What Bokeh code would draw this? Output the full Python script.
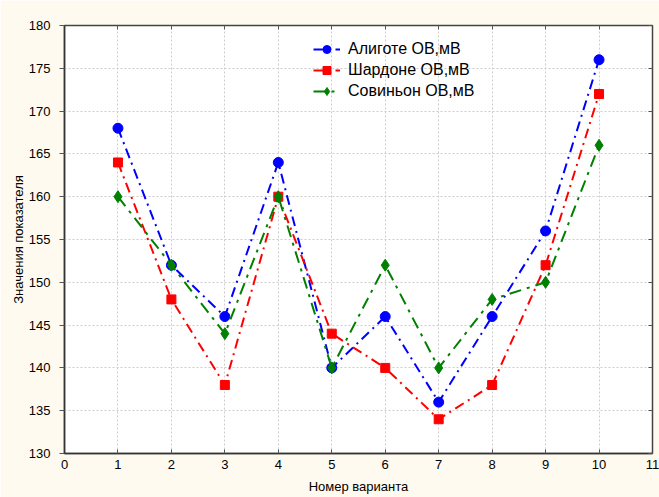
from bokeh.plotting import figure
from bokeh.models import LinearAxis, Range1d, FixedTicker, Legend
from bokeh.embed import file_html
from bokeh.resources import INLINE

variants = [1, 2, 3, 4, 5, 6, 7, 8, 9, 10]
aligote = [168, 152, 146, 164, 140, 146, 136, 146, 156, 176]
chardonnay = [164, 148, 138, 160, 144, 140, 134, 138, 152, 172]
sauvignon = [160, 152, 144, 160, 140, 152, 140, 148, 150, 166]
x_ticks = list(range(0, 12))
y_ticks = list(range(130, 181, 5))

FONT = "Liberation Sans"
BG = "#FFFAF0"

p = figure(width=659, height=497, output_backend="svg", toolbar_location=None,
           x_range=Range1d(0, 11), y_range=Range1d(130, 180),
           min_border_left=64, min_border_right=7, min_border_top=25, min_border_bottom=44,
           border_fill_color=BG, background_fill_color="white",
           outline_line_color="#444444", outline_line_width=1.5)

p.xaxis.ticker = FixedTicker(ticks=x_ticks)
p.yaxis.ticker = FixedTicker(ticks=y_ticks)
for ax in (p.xaxis[0], p.yaxis[0]):
    ax.axis_line_color = "#333333"
    ax.axis_line_width = 1.5
    ax.major_tick_line_color = "#555555"
    ax.minor_tick_line_color = None
    ax.major_label_text_font = FONT
    ax.major_label_text_font_size = "13px"
    ax.major_label_text_color = "black"
    ax.axis_label_text_font = FONT
    ax.axis_label_text_font_size = "13px"
    ax.axis_label_text_font_style = "normal"
    ax.axis_label_text_color = "black"
p.xaxis.major_tick_in = 4
p.xaxis.major_tick_out = 0
p.xaxis.major_label_standoff = 6
p.xaxis.axis_label = "Номер варианта"
p.xaxis.axis_label_standoff = 7
p.yaxis.major_tick_in = 0
p.yaxis.major_tick_out = 5
p.yaxis.major_label_standoff = 9
p.yaxis.axis_label = "Значения показателя"
p.yaxis.axis_label_standoff = 0

right = LinearAxis(ticker=FixedTicker(ticks=y_ticks), major_label_text_color=None,
                   major_tick_in=4, major_tick_out=0, minor_tick_line_color=None,
                   axis_line_color="#444444", major_tick_line_color="#555555")
top = LinearAxis(ticker=FixedTicker(ticks=x_ticks), major_label_text_color=None,
                 major_tick_in=4, major_tick_out=0, minor_tick_line_color=None,
                 axis_line_color="#444444", major_tick_line_color="#555555")
p.add_layout(right, "right")
p.add_layout(top, "above")

p.xgrid.ticker = FixedTicker(ticks=x_ticks)
p.ygrid.ticker = FixedTicker(ticks=y_ticks)
p.grid.grid_line_color = "#cccccc"
p.grid.grid_line_dash = "2 2"
p.grid.grid_line_width = 1

series = [
    ("Алиготе ОВ,мВ", aligote, "#0000FF", "circle", 10, "10 5 2 5"),
    ("Шардоне ОВ,мВ", chardonnay, "#FF0000", "square", 9, "10 5 2 5"),
    ("Совиньон ОВ,мВ", sauvignon, "#008000", "diamond", 12, "12 6 3 6"),
]
items = []
for name, ys, col, mk, sz, dash in series:
    l = p.line(variants, ys, line_color=col, line_width=2, line_dash=dash)
    s = p.scatter(variants, ys, marker=mk, size=sz, fill_color=col, line_color=col)
    items.append((name, [l, s]))

legend = Legend(items=items, location=(249, 352), padding=0, margin=0, spacing=1,
                border_line_color=None, background_fill_alpha=0,
                label_text_font=FONT, label_text_font_size="16px", label_text_color="black",
                label_standoff=8, glyph_width=27, glyph_height=20, label_height=20)
p.add_layout(legend, "center")

open("out.html", "w").write(file_html(p, INLINE))
